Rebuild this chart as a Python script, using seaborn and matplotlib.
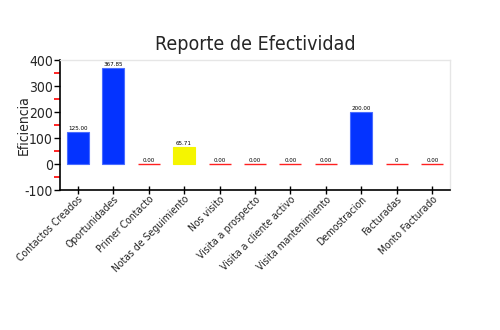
import matplotlib
matplotlib.use("Agg")
import matplotlib.pyplot as plt
from matplotlib.ticker import MultipleLocator
import seaborn as sns
import pandas as pd

categorias = ["Contactos Creados", "Oportunidades", "Primer Contacto",
              "Notas de Seguimiento", "Nos visito", "Visita a prospecto",
              "Visita a cliente activo", "Visita mantenimiento",
              "Demostracion", "Facturadas", "Monto Facturado"]
eficiencia = [125.00, 367.85, 0.00, 65.71, 0.00, 0.00, 0.00, 0.00, 200.00, 0.00, 0.00]
etiquetas = ["125.00", "367.85", "0.00", "65.71", "0.00", "0.00", "0.00", "0.00",
             "200.00", "0", "0.00"]
colores = ["#0433ff", "#0433ff", "#ff2020", "#f5f500", "#ff2020", "#ff2020",
           "#ff2020", "#ff2020", "#0433ff", "#ff2020", "#ff2020"]

sns.set_theme(style="white")
plt.rcParams["font.family"] = ["DejaVu Sans"]
plt.rcParams["font.stretch"] = "condensed"
plt.rcParams["axes.unicode_minus"] = False

df = pd.DataFrame({"cat": categorias, "val": eficiencia})

fig = plt.figure(figsize=(5.0, 3.3), dpi=100)
ax = fig.add_axes([0.12, 0.424, 0.78, 0.394])

sns.barplot(data=df, x="cat", y="val", hue="cat", palette=colores,
            legend=False, width=0.62, ax=ax, saturation=1)

# zero-height bars stay visible as a coloured line on the baseline
for patch, color, val in zip(ax.patches, colores, eficiencia):
    if val == 0:
        patch.set_edgecolor(color)
        patch.set_linewidth(1.0)
    else:
        patch.set_edgecolor("#4a6cff" if color == "#0433ff" else color)
        patch.set_linewidth(0.8)

for i, (val, txt) in enumerate(zip(eficiencia, etiquetas)):
    ax.text(i, val + 4, txt, ha="center", va="bottom", fontsize=4.5, color="black")

ax.set_ylim(-100, 400)
ax.set_xlim(-0.5, len(categorias) - 0.5)
ax.yaxis.set_major_locator(MultipleLocator(100))
ax.yaxis.set_minor_locator(MultipleLocator(50))
ax.tick_params(axis="y", which="major", direction="out", length=4, width=1,
               color="black", labelsize=10, pad=1, left=True)
ax.tick_params(axis="y", which="minor", direction="out", length=4, width=1.2,
               color="red", left=True)
ax.tick_params(axis="x", which="major", direction="inout", length=6, width=1,
               color="black", labelsize=7.5, pad=0, bottom=True)
plt.setp(ax.get_xticklabels(), rotation=45, ha="right", rotation_mode="anchor")

ax.set_xlabel("")
ax.set_ylabel("Eficiencia", fontsize=10)
ax.yaxis.set_label_coords(-0.075, 0.5)
ax.set_title("Reporte de Efectividad", fontsize=14, pad=7)

for side in ["top", "right"]:
    ax.spines[side].set_color("#e6e6e6")
    ax.spines[side].set_linewidth(1)
for side in ["left", "bottom"]:
    ax.spines[side].set_color("black")
    ax.spines[side].set_linewidth(1.2)

fig.savefig("out.png", dpi=100, facecolor="white")
